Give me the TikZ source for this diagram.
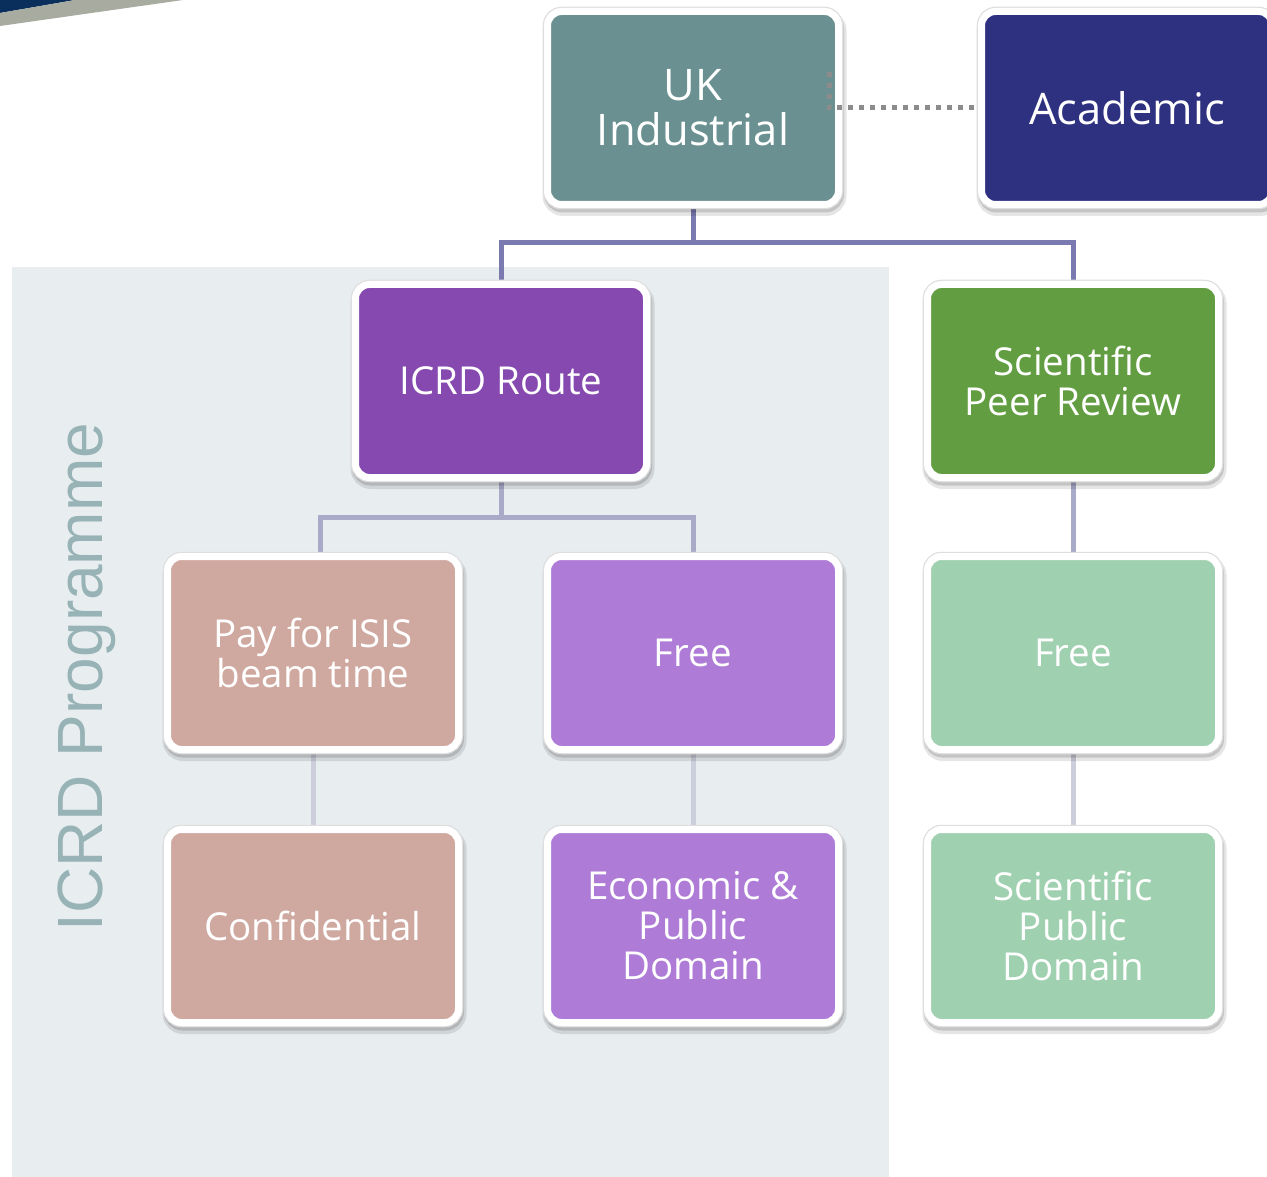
\documentclass[tikz,border=0pt]{standalone}
\usepackage{fontspec}
\setmainfont{Open Sans}
\newfontfamily\progfont{Liberation Sans}
\pgfdeclarelayer{back}
\pgfdeclarelayer{lines}
\pgfsetlayers{back,lines,main}
\definecolor{ukc}{HTML}{6A9092}
\definecolor{acc}{HTML}{2E3080}
\definecolor{icrdc}{HTML}{8549AF}
\definecolor{sprc}{HTML}{629E41}
\definecolor{payc}{HTML}{CFA8A0}
\definecolor{freec}{HTML}{AE7BD6}
\definecolor{freegc}{HTML}{9FD0AF}
\definecolor{panelc}{HTML}{E8EDF0}
\definecolor{progc}{HTML}{97B3B6}
\definecolor{linea}{HTML}{7A7AB0}
\definecolor{lineb}{HTML}{A9AAC8}
\definecolor{linec}{HTML}{CDCEDC}
\definecolor{navyc}{HTML}{0A2F5C}
\definecolor{swgray}{HTML}{A8ABA0}
\definecolor{dotc}{HTML}{8C8C8C}
\tikzset{
  box/.style={rectangle, rounded corners=14pt, draw=white, line width=7pt,
    minimum width=291pt, minimum height=193pt, text=white, align=center,
    inner sep=0pt, font=\fontsize{38.5}{40}\selectfont,
    preaction={draw=black, draw opacity=0.10, line width=13pt, transform canvas={xshift=1.5pt,yshift=-5pt}},
    preaction={draw=black, draw opacity=0.14, line width=9pt, transform canvas={xshift=1pt,yshift=-3.5pt}},
    preaction={draw=black!13, line width=9.5pt}},
  bigbox/.style={box, font=\fontsize{43.5}{45}\selectfont},
  linka/.style={draw=linea, line width=5pt},
  linkb/.style={draw=lineb, line width=5pt},
  linkc/.style={draw=linec, line width=5pt},
  dotlink/.style={draw=dotc, line width=5pt, dash pattern=on 5pt off 6pt}
}
\begin{document}
\begin{tikzpicture}[x=1pt,y=-1pt]
\useasboundingbox (0,0) rectangle (1267,1177);
\clip (0,0) rectangle (1267,1177);
\begin{pgfonlayer}{back}
  \fill[white] (0,0) rectangle (1267,1177);
  \fill[panelc] (12,267) rectangle (889,1177);
  \fill[navyc] (0,0) -- (75,0) -- (0,13) -- cycle;
  \fill[swgray] (75,0) -- (183,0) -- (0,26) -- (0,13) -- cycle;
\end{pgfonlayer}

\node[text=progc, font=\progfont\fontsize{64}{64}\selectfont, rotate=90] (prog) at (87,677) {ICRD Programme};

\node[bigbox, fill=ukc] (uk) at (693,108) {UK\\Industrial};
\node[bigbox, fill=acc] (acad) at (1127,108) {Academic};
\node[box, fill=icrdc] (icrd) at (501,381) {ICRD Route};
\node[box, fill=sprc] (spr) at (1073,381) {Scientific\\Peer Review};
\node[box, fill=payc] (pay) at (313,653) {Pay for ISIS\\beam time};
\node[box, fill=freec] (free) at (693,653) {Free};
\node[box, fill=freegc] (freeg) at (1073,653) {Free};
\node[box, fill=payc] (conf) at (313,926) {Confidential};
\node[box, fill=freec] (econ) at (693,926) {Economic \&\\Public\\Domain};
\node[box, fill=freegc] (spd) at (1073,926) {Scientific\\Public\\Domain};

\coordinate (j1) at (693,243);
\coordinate (j2) at (501,517);
\coordinate (j3) at (320,517);
\begin{pgfonlayer}{lines}
  \draw[linka] (uk.south) -- (j1) -| (icrd.north);
  \draw[linka] (j1) -| (spr.north);
  \draw[linkb] (icrd.south) -- (j2) -- (j3) -- (j3 |- pay.north);
  \draw[linkb] (j2) -| (free.north);
  \draw[linkb] (spr.south) -- (freeg.north);
  \draw[linkc] (pay.south) -- (conf.north);
  \draw[linkc] (free.south) -- (econ.north);
  \draw[linkc] (freeg.south) -- (spd.north);
\end{pgfonlayer}

\coordinate (d0) at (829,72);
\draw[dotlink] (d0) |- (acad.west);
\end{tikzpicture}
\end{document}
